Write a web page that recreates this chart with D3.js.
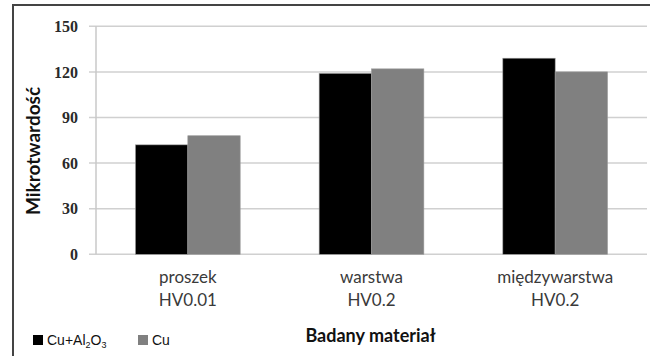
<!DOCTYPE html>
<html lang="pl">
<head>
  <meta charset="UTF-8">
  <title>Mikrotwardość</title>
  <script src="https://d3js.org/d3.v7.min.js"></script>
  <style>
    body { margin: 0; background: #fff; }
    svg { display: block; }
  </style>
</head>
<body>
<div id="chart"></div>
<script>
  // dane
  const categories = ["proszek|HV0.01", "warstwa|HV0.2", "międzywarstwa|HV0.2"];
  const seriesNames = ["Cu+Al2O3", "Cu"];
  const valuesCuAl2O3 = [72, 119, 129];
  const valuesCu = [78, 122, 120];
  const yTicks = [0, 30, 60, 90, 120, 150];

  const W = 650, H = 356;
  const plot = {left: 96, right: 647, top: 26.3, bottom: 254.3};
  const colors = ["#000000", "#808080"];

  const svg = d3.select("#chart").append("svg")
    .attr("width", W).attr("height", H);

  // ramka
  svg.append("rect")
    .attr("x", 13).attr("y", 5)
    .attr("width", 700).attr("height", 400)
    .attr("fill", "none")
    .attr("stroke", "#444")
    .attr("stroke-width", 2);

  const x0 = d3.scaleBand()
    .domain(categories)
    .range([plot.left, plot.right])
    .paddingInner(0.43)
    .paddingOuter(0.215);

  const x1 = d3.scaleBand()
    .domain(seriesNames)
    .range([0, x0.bandwidth()]);

  const y = d3.scaleLinear()
    .domain([0, 150])
    .range([plot.bottom, plot.top]);

  // siatka
  svg.append("g")
    .selectAll("line")
    .data(yTicks)
    .enter().append("line")
    .attr("x1", plot.left - 7)
    .attr("x2", plot.right)
    .attr("y1", d => y(d))
    .attr("y2", d => y(d))
    .attr("stroke", "#d0d0d0")
    .attr("stroke-width", 1.5);

  // oś Y
  svg.append("line")
    .attr("x1", plot.left).attr("x2", plot.left)
    .attr("y1", plot.top).attr("y2", plot.bottom)
    .attr("stroke", "#c8c8c8")
    .attr("stroke-width", 1.5);

  const yAxis = svg.append("g")
    .attr("transform", `translate(${plot.left},0)`)
    .call(d3.axisLeft(y).tickValues(yTicks).tickSize(0).tickPadding(18));
  yAxis.select(".domain").remove();
  yAxis.selectAll("text")
    .attr("font-family", "'Liberation Serif', serif")
    .attr("font-size", 16)
    .attr("font-weight", "bold")
    .attr("fill", "#2a2a2a");

  // słupki
  const data = categories.map((c, i) => ({cat: c, vals: [valuesCuAl2O3[i], valuesCu[i]]}));

  const groups = svg.append("g")
    .selectAll("g")
    .data(data)
    .enter().append("g")
    .attr("transform", d => `translate(${x0(d.cat)},0)`);

  groups.selectAll("rect")
    .data(d => d.vals.map((v, j) => ({name: seriesNames[j], value: v, j: j})))
    .enter().append("rect")
    .attr("x", d => x1(d.name))
    .attr("y", d => y(d.value))
    .attr("width", x1.bandwidth())
    .attr("height", d => y(0) - y(d.value))
    .attr("fill", d => colors[d.j])
    .attr("stroke", "#999")
    .attr("stroke-width", 0.6);

  // etykiety kategorii
  const xAxis = svg.append("g")
    .attr("font-family", "Lato, sans-serif")
    .attr("font-size", 17)
    .attr("fill", "#3a3a3a");
  categories.forEach(c => {
    const parts = c.split("|");
    const t = xAxis.append("text")
      .attr("x", x0(c) + x0.bandwidth() / 2)
      .attr("y", 283)
      .attr("text-anchor", "middle");
    t.append("tspan").text(parts[0]);
    t.append("tspan")
      .attr("x", x0(c) + x0.bandwidth() / 2)
      .attr("dy", 23)
      .text(parts[1]);
  });

  // tytuły osi
  svg.append("text")
    .attr("x", (plot.left + plot.right) / 2 - 1)
    .attr("y", 342)
    .attr("text-anchor", "middle")
    .attr("font-family", "Lato, sans-serif")
    .attr("font-weight", "bold")
    .attr("font-size", 18)
    .attr("fill", "#111")
    .text("Badany materiał");

  svg.append("text")
    .attr("transform", "translate(40,151) rotate(-90)")
    .attr("text-anchor", "middle")
    .attr("font-family", "Lato, sans-serif")
    .attr("font-weight", "bold")
    .attr("font-size", 19)
    .attr("fill", "#111")
    .text("Mikrotwardość");

  // legenda
  const legend = svg.append("g")
    .attr("font-family", "'Liberation Sans', Arial, sans-serif")
    .attr("font-size", 14)
    .attr("fill", "#111");
  const legX = [33, 138];
  seriesNames.forEach((s, i) => {
    legend.append("rect")
      .attr("x", legX[i]).attr("y", 335)
      .attr("width", 10).attr("height", 10)
      .attr("fill", colors[i]);
    const t = legend.append("text")
      .attr("x", legX[i] + 14)
      .attr("y", 345);
    if (s === "Cu+Al2O3") {
      t.append("tspan").text("Cu+Al");
      t.append("tspan").attr("font-size", 9).attr("dy", 3).text("2");
      t.append("tspan").attr("dy", -3).text("O");
      t.append("tspan").attr("font-size", 9).attr("dy", 3).text("3");
    } else {
      t.text(s);
    }
  });
</script>
</body>
</html>
